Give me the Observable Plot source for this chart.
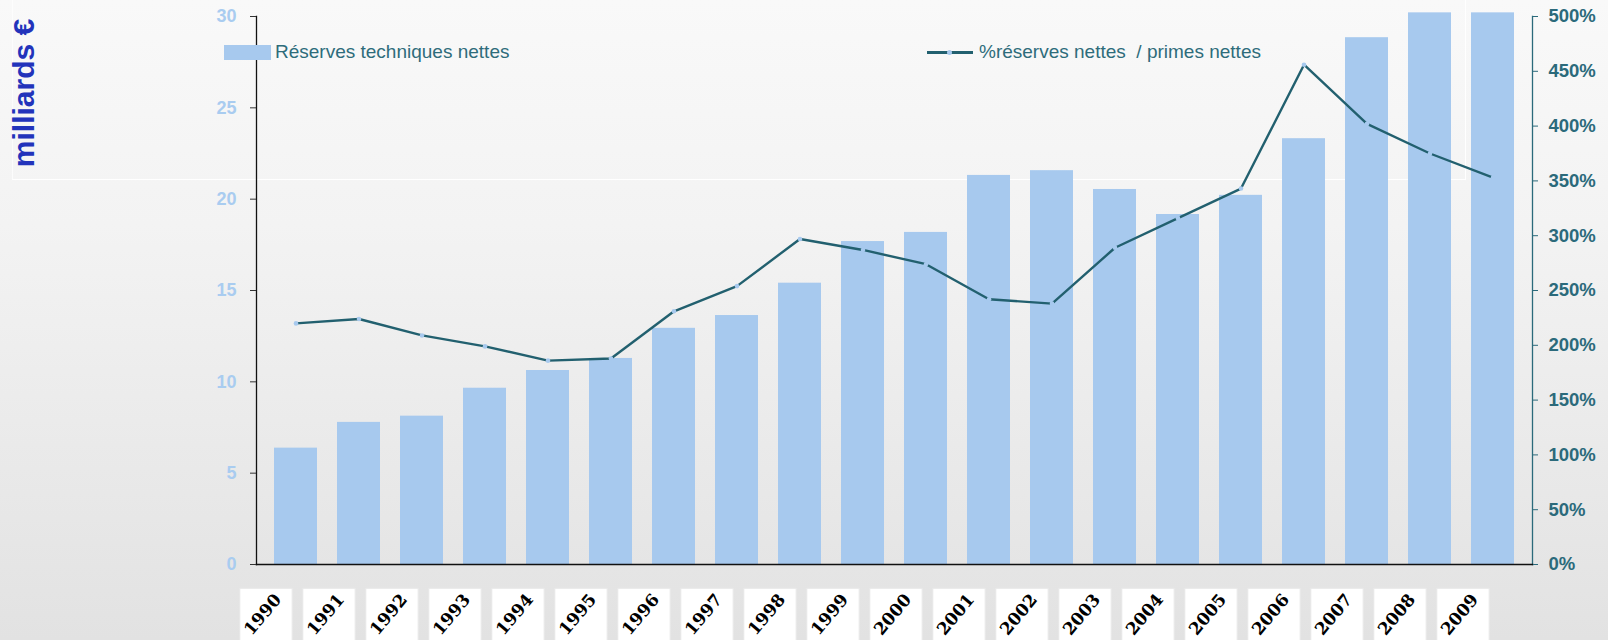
<!DOCTYPE html>
<html>
<head>
<meta charset="utf-8">
<script src="https://cdn.jsdelivr.net/npm/d3@7"></script>
<script src="https://cdn.jsdelivr.net/npm/@observablehq/plot@0.6"></script>
<style>
  html, body { margin: 0; padding: 0; }
  body { width: 1608px; height: 640px; overflow: hidden;
         background: linear-gradient(to bottom, #f9f9f9 0%, #f3f3f3 35%, #e2e2e2 100%);
         font-family: "Liberation Sans", Arial, sans-serif; }
  #wrap { position: relative; width: 1608px; height: 640px; }
  #chart { position: absolute; left: 0; top: 0; }
  .ov { position: absolute; pointer-events: none; }
</style>
</head>
<body>
<div id="wrap">
  <div class="ov" style="left:12px; top:-2px; width:1452px; height:181px; border-right:1.5px solid #ffffff; border-bottom:1.5px solid #ffffff; border-left:1px solid rgba(255,255,255,0.7);"></div>
  <div id="chart"></div>
  <div class="ov" style="left:24px; top:93px; transform:translate(-50%,-50%) rotate(-90deg); white-space:nowrap; font-weight:bold; font-size:30px; color:#2233bb;">milliards €</div>
  <div class="ov" style="left:224px; top:45px; width:47px; height:15px; background:#a7c9ee;"></div>
  <div class="ov" style="left:275px; top:40px; font-size:19px; line-height:24px; color:#2e6c7b; white-space:pre;">Réserves techniques nettes</div>
  <div class="ov" style="left:927px; top:51px; width:46px; height:2.5px; background:#22606f;"></div>
  <div class="ov" style="left:946.5px; top:49.5px; width:5px; height:5px; border-radius:50%; background:#a7c9ee;"></div>
  <div class="ov" style="left:979px; top:40px; font-size:19px; line-height:24px; color:#2e6c7b; white-space:pre;">%réserves nettes  / primes nettes</div>
</div>
<script>
const years = ["1990","1991","1992","1993","1994","1995","1996","1997","1998","1999",
               "2000","2001","2002","2003","2004","2005","2006","2007","2008","2009"];
const reserves = [6.37, 7.78, 8.12, 9.65, 10.62, 11.28, 12.93, 13.63, 15.40, 17.68,
                  18.18, 21.30, 21.56, 20.53, 19.16, 20.21, 23.31, 28.84, 30.2, 30.2];
const ratioPct = [220, 224, 209, 199, 186, 188, 231, 254, 297, 287,
                  274, 242, 238, 289, 316, 343, 456, 402, 375, 353];
const leftTicks = [0, 5, 10, 15, 20, 25, 30];
const rightTicks = [0, 50, 100, 150, 200, 250, 300, 350, 400, 450, 500];

const yMax = 30, pctMax = 500, k = yMax / pctMax;
const rows = years.map((y, i) => ({year: y, reserves: reserves[i], pct: ratioPct[i]}));

const barColor = "#a7c9ee", teal = "#22606f", tealText = "#2b6a7b";

const chart = Plot.plot({
  width: 1608,
  height: 640,
  marginLeft: 256,
  marginRight: 76,
  marginTop: 16,
  marginBottom: 76,
  style: {background: "transparent", fontFamily: "'Liberation Sans', Arial, sans-serif", overflow: "visible"},
  x: {type: "band", domain: years, paddingInner: 0.31, paddingOuter: 0.157, label: null},
  y: {domain: [0, yMax], label: null},
  marks: [
    Plot.barY(rows, {x: "year", y: "reserves", fill: barColor}),
    Plot.line(rows, {x: "year", y: d => d.pct * k, stroke: teal, strokeWidth: 2.4}),
    Plot.dot(rows, {x: "year", y: d => d.pct * k, r: 2.3, fill: barColor}),
    Plot.frame({anchor: "left", stroke: "#111", strokeWidth: 1.3}),
    Plot.frame({anchor: "right", stroke: tealText, strokeWidth: 1.3}),
    Plot.frame({anchor: "bottom", stroke: "#111", strokeWidth: 1.6}),
    Plot.axisY(leftTicks, {anchor: "left", tickSize: 6, tickPadding: 14, stroke: "#333", fill: "#a9ccf0",
      fontSize: 18, fontWeight: "bold", label: null}),
    Plot.axisY(rightTicks.map(p => p * k), {anchor: "right", tickSize: 5, tickPadding: 11,
      stroke: tealText, fill: tealText, fontSize: 18.5, fontWeight: "bold", letterSpacing: 1.3,
      tickFormat: v => Math.round(v / k) + "%", label: null}),
    Plot.dot(years, {x: d => d, frameAnchor: "bottom", symbol: "square", r: 29.5,
      fill: "#ffffff", stroke: "#e9e9e9", strokeWidth: 1, dx: -30, dy: 50}),
    Plot.axisX(years, {anchor: "bottom", tickSize: 0, tickPadding: 32, tickRotate: -50, dx: -18,
      fill: "#000", fontSize: 17, fontWeight: "bold", fontFamily: "'DejaVu Serif', serif", label: null})
  ]
});
document.getElementById("chart").appendChild(chart);
</script>
</body>
</html>
